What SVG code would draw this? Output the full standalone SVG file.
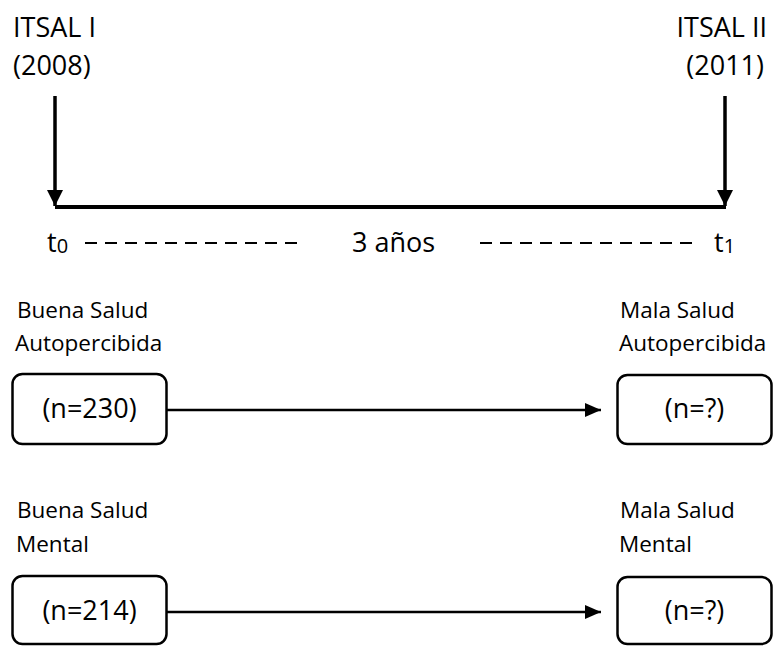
<svg xmlns="http://www.w3.org/2000/svg" width="776" height="646" viewBox="0 0 776 646">
<defs>
<style>
text{font-family:"Open Sans","Noto Sans","Liberation Sans",sans-serif;fill:#000}
.big{font-size:27px}
.lab{font-size:22.5px}
.sub{font-size:20px}
.box{fill:#fff;stroke:#000;stroke-width:2.5}
.conn{stroke:#000;fill:none}
</style>
<marker id="ah" markerUnits="userSpaceOnUse" markerWidth="16" markerHeight="16" viewBox="0 0 16 16" refX="16" refY="8" orient="auto">
<path d="M0,0 L16,8 L0,16 Z" fill="#000"/>
</marker>
<marker id="ahs" markerUnits="userSpaceOnUse" markerWidth="16" markerHeight="14" viewBox="0 0 16 14" refX="16" refY="7" orient="auto">
<path d="M0,0 L16,7 L0,14 Z" fill="#000"/>
</marker>
</defs>
<g id="header-left">
<text class="big" x="13" y="37">ITSAL I</text>
<text class="big" x="13" y="75">(2008)</text>
</g>
<g id="header-right">
<text class="big" x="767" y="37" text-anchor="end">ITSAL II</text>
<text class="big" x="764" y="75" text-anchor="end">(2011)</text>
</g>
<g id="timeline-labels">
<text class="big" x="47" y="252">t<tspan class="sub" dy="1">0</tspan></text>
<text class="big" x="352" y="252">3 años</text>
<text class="big" x="714" y="252">t<tspan class="sub" dy="1">1</tspan></text>
</g>
<g id="connectors">
<line class="conn" x1="55" y1="96" x2="55" y2="206" stroke-width="3.5" marker-end="url(#ah)"/>
<line class="conn" x1="725" y1="96" x2="725" y2="206" stroke-width="3.5" marker-end="url(#ah)"/>
<line class="conn" x1="55" y1="207" x2="726" y2="207" stroke-width="4"/>
<line class="conn" x1="85" y1="243" x2="305" y2="243" stroke-width="2" stroke-dasharray="12 8"/>
<line class="conn" x1="480" y1="243" x2="694" y2="243" stroke-width="2" stroke-dasharray="12 8"/>
<line class="conn" x1="167" y1="410" x2="601" y2="410" stroke-width="2.5" marker-end="url(#ahs)"/>
<line class="conn" x1="167" y1="612" x2="601" y2="612" stroke-width="2.5" marker-end="url(#ahs)"/>
</g>
<g id="node-buena-autopercibida">
<text class="lab" x="17" y="318">Buena Salud</text>
<text class="lab" x="15" y="351">Autopercibida</text>
<rect class="box" x="12.5" y="374" width="154" height="70" rx="10"/>
<text class="big" x="89.5" y="418" text-anchor="middle">(n=230)</text>
</g>
<g id="node-mala-autopercibida">
<text class="lab" x="620" y="318">Mala Salud</text>
<text class="lab" x="619" y="351">Autopercibida</text>
<rect class="box" x="617.5" y="375" width="154" height="69" rx="10"/>
<text class="big" x="694.5" y="418" text-anchor="middle">(n=?)</text>
</g>
<g id="node-buena-mental">
<text class="lab" x="17" y="518">Buena Salud</text>
<text class="lab" x="16" y="552">Mental</text>
<rect class="box" x="12.5" y="576" width="154" height="68" rx="10"/>
<text class="big" x="89.5" y="620" text-anchor="middle">(n=214)</text>
</g>
<g id="node-mala-mental">
<text class="lab" x="620" y="518">Mala Salud</text>
<text class="lab" x="619" y="552">Mental</text>
<rect class="box" x="617.5" y="577" width="154" height="67" rx="10"/>
<text class="big" x="694.5" y="620" text-anchor="middle">(n=?)</text>
</g>
</svg>
